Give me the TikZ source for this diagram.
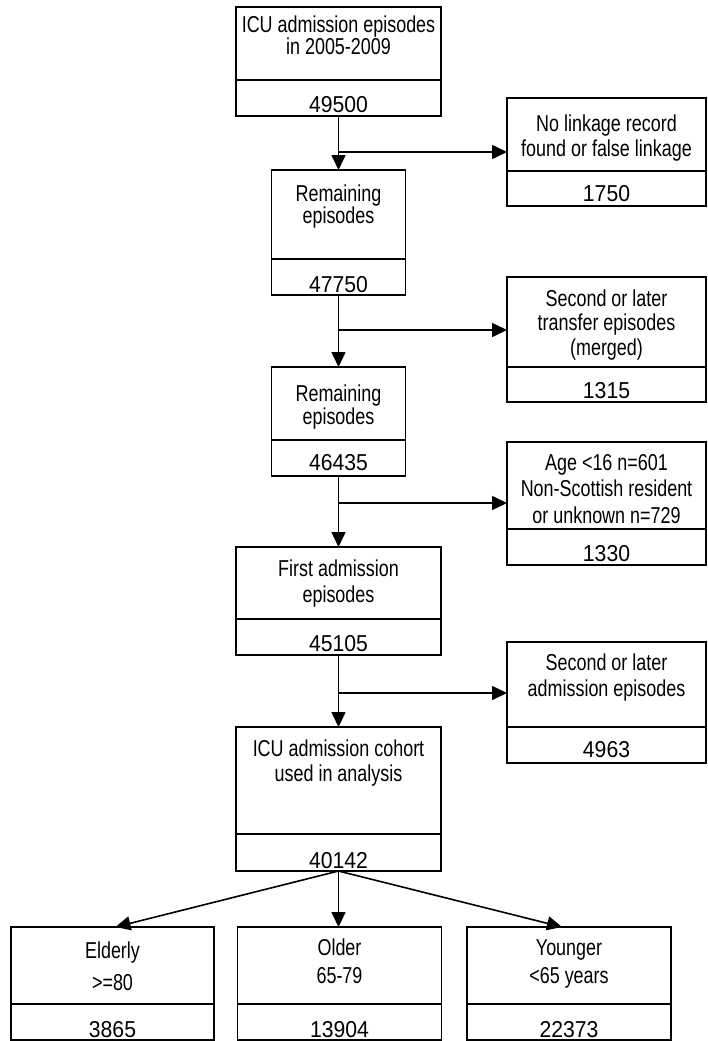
\documentclass[tikz,border=0pt]{standalone}
\usepackage{fontspec}
\newfontfamily\txtfont[FakeStretch=0.78]{Liberation Sans}
\newfontfamily\numfont[FakeStretch=0.92]{Liberation Sans}
\usetikzlibrary{arrows.meta}
\tikzset{
  frame/.style={draw=black, line width=1.8pt, rectangle, inner sep=0pt, outer sep=0pt},
  % multi-line labels: the base anchor sits on the baseline of the last line
  lbl/.style={font=\fontsize{23}{#1}\txtfont, align=center, anchor=base, inner sep=0pt},
  cnt/.style={font=\fontsize{23}{23}\numfont, anchor=base, inner sep=0pt},
  flow/.style={line width=1.6pt, -{Triangle[length=15pt,width=14pt]}},
}
\begin{document}
\begin{tikzpicture}[x=1pt, y=-1pt]
\useasboundingbox (0,0) rectangle (707,1041);

% ---- main column ----
\node[frame, minimum width=205pt, minimum height=73pt] (b1) at (338.5,43.5) {};
\node[frame, minimum width=205pt, minimum height=36pt] (b1n) at (338.5,98) {};
\node[lbl=18.4] (t1) at (338.5,54.7) {ICU admission episodes\\in 2005-2009};
\node[cnt] (c1) at (338.5,112) {49500};

\node[frame, minimum width=134pt, minimum height=89pt] (b2) at (338.5,214.5) {};
\node[frame, minimum width=134pt, minimum height=36pt] (b2n) at (338.5,277) {};
\node[lbl=21.5] (t2) at (338.5,223.2) {Remaining\\episodes};
\node[cnt] (c2) at (338.5,292.7) {47750};

\node[frame, minimum width=134pt, minimum height=73pt] (b3) at (338.5,403.5) {};
\node[frame, minimum width=134pt, minimum height=36pt] (b3n) at (338.5,458) {};
\node[lbl=22.3] (t3) at (338.5,424) {Remaining\\episodes};
\node[cnt] (c3) at (338.5,470) {46435};

\node[frame, minimum width=205pt, minimum height=72pt] (b4) at (338.5,583) {};
\node[frame, minimum width=205pt, minimum height=36pt] (b4n) at (338.5,637) {};
\node[lbl=26] (t4) at (338.5,602.7) {First admission\\episodes};
\node[cnt] (c4) at (338.5,651.7) {45105};

\node[frame, minimum width=205pt, minimum height=107pt] (b5) at (338.5,780.5) {};
\node[frame, minimum width=205pt, minimum height=37pt] (b5n) at (338.5,852.5) {};
\node[lbl=25] (t5) at (338.5,781.7) {ICU admission cohort\\used in analysis};
\node[cnt] (c5) at (338.5,868.3) {40142};

% ---- exclusions ----
\node[frame, minimum width=199pt, minimum height=73pt] (r1) at (606.5,134.5) {};
\node[frame, minimum width=199pt, minimum height=35pt] (r1n) at (606.5,188.5) {};
\node[lbl=25] (s1) at (606.5,156.7) {No linkage record\\found or false linkage};
\node[cnt] (d1) at (606.5,201.7) {1750};

\node[frame, minimum width=199pt, minimum height=90pt] (r2) at (606.5,322) {};
\node[frame, minimum width=199pt, minimum height=35pt] (r2n) at (606.5,384.5) {};
\node[lbl=24.2] (s2) at (606.5,355.1) {Second or later\\transfer episodes\\(merged)};
\node[cnt] (d2) at (606.5,398.3) {1315};

\node[frame, minimum width=199pt, minimum height=87pt] (r3) at (606.5,485.5) {};
\node[frame, minimum width=199pt, minimum height=36pt] (r3n) at (606.5,547) {};
\node[lbl=26.5] (s3) at (606.5,523) {Age <16 n=601\\Non-Scottish resident\\or unknown n=729};
\node[cnt] (d3) at (606.5,561.7) {1330};

\node[frame, minimum width=199pt, minimum height=85pt] (r4) at (606.5,684.5) {};
\node[frame, minimum width=199pt, minimum height=36pt] (r4n) at (606.5,745) {};
\node[lbl=26.7] (s4) at (606.5,696.7) {Second or later\\admission episodes};
\node[cnt] (d4) at (606.5,757.3) {4963};

% ---- age groups ----
\node[frame, minimum width=203pt, minimum height=77pt] (el) at (112.5,965.5) {};
\node[frame, minimum width=203pt, minimum height=36pt] (eln) at (112.5,1022) {};
\node[lbl=31.7] (te) at (112.5,990) {Elderly\\>=80};
\node[cnt] (ce) at (112.5,1037.5) {3865};

\node[frame, minimum width=204pt, minimum height=77pt] (ol) at (339.5,965.5) {};
\node[frame, minimum width=204pt, minimum height=36pt] (oln) at (339.5,1022) {};
\node[lbl=28.3] (to) at (339.5,983.3) {Older\\65-79};
\node[cnt] (co) at (339.5,1037.5) {13904};

\node[frame, minimum width=204pt, minimum height=77pt] (yo) at (569,965.5) {};
\node[frame, minimum width=204pt, minimum height=36pt] (yon) at (569,1022) {};
\node[lbl=28.3] (ty) at (569,983.3) {Younger\\<65 years};
\node[cnt] (cy) at (569,1037.5) {22373};

% ---- connectors ----
\coordinate (j1) at (338.5,152);
\coordinate (j2) at (338.5,330);
\coordinate (j3) at (338.5,503);
\coordinate (j4) at (338.5,693);

\draw[flow] (b1n.south) -- (b2.north);
\draw[flow] (j1) -- (j1 -| r1.west);
\draw[flow] (b2n.south) -- (b3.north);
\draw[flow] (j2) -- (j2 -| r2.west);
\draw[flow] (b3n.south) -- (b4.north);
\draw[flow] (j3) -- (j3 -| r3.west);
\draw[flow] (b4n.south) -- (b5.north);
\draw[flow] (j4) -- (j4 -| r4.west);

\draw[flow] (b5n.south) -- ([xshift=3pt]el.north);
\draw[flow] (b5n.south) -- (b5n.south |- ol.north);
\draw[flow] (b5n.south) -- ([xshift=-7pt]yo.north);
\end{tikzpicture}
\end{document}
